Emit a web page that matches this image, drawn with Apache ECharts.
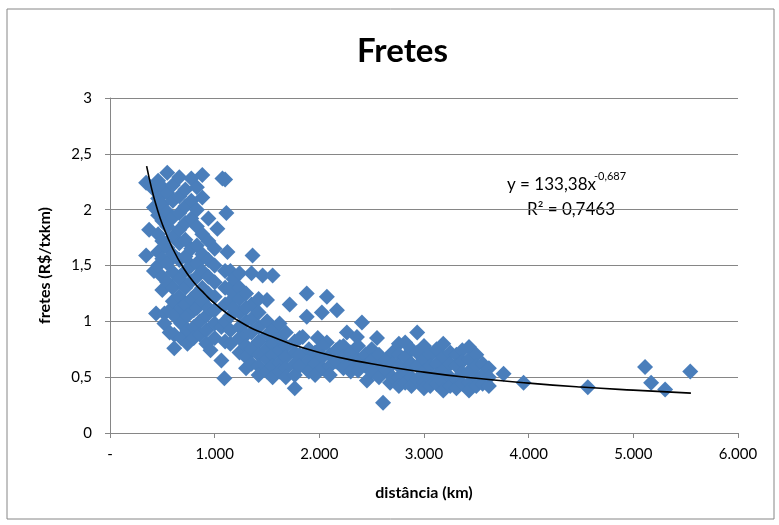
<!DOCTYPE html>
<html>
<head>
<meta charset="utf-8">
<script src="https://cdn.jsdelivr.net/npm/echarts@6/dist/echarts.min.js"></script>
<style>
  html, body { margin: 0; padding: 0; background: #fff; }
  #fretes { width: 779px; height: 525px; }
</style>
</head>
<body>
<div id="fretes"></div>
<script>
// pontos observados: [distancia (km), frete (R$/txkm)]
var pontos = [
  [345, 2.24], [345, 1.59], [374, 1.82],
  [420, 2.18], [420, 2.02], [420, 1.45], [440, 1.07],
  [460, 2.26], [460, 2.1], [460, 1.95], [460, 1.78], [460, 1.62], [460, 1.5],
  [500, 2.2], [500, 2.05], [500, 1.9], [500, 1.72], [500, 1.56], [500, 1.4], [500, 1.28], [520, 1.07], [520, 0.98],
  [547, 2.33], [547, 2.15], [547, 1.98], [547, 1.85], [547, 1.66], [547, 1.52], [547, 1.35], [570, 1.1], [570, 0.9],
  [600, 2.22], [600, 2.08], [600, 1.93], [600, 1.76], [600, 1.6], [600, 1.44], [600, 1.3], [600, 1.18],
  [614, 1.05], [614, 0.88], [614, 0.76],
  [662, 2.29], [662, 2.12], [662, 1.97], [662, 1.82], [662, 1.7], [662, 1.55], [662, 1.38], [662, 1.22],
  [680, 1.12], [680, 0.98], [680, 0.85],
  [720, 2.18], [720, 2.03], [720, 1.88], [720, 1.73], [720, 1.58], [720, 1.45], [720, 1.3], [720, 1.15],
  [740, 1.05], [740, 0.92], [740, 0.8],
  [777, 2.28], [777, 2.08], [777, 1.92], [777, 1.65], [777, 1.5], [777, 1.36], [777, 1.2],
  [800, 1.1], [800, 0.95], [800, 0.85],
  [830, 2.2], [830, 2.0], [830, 1.85], [830, 1.68], [830, 1.52], [830, 1.4], [830, 1.25], [830, 1.12],
  [860, 1.0], [860, 0.88],
  [882, 2.31], [882, 2.11], [882, 1.78], [882, 1.6], [882, 1.45], [882, 1.3], [882, 1.18],
  [920, 1.05], [920, 0.92], [920, 0.8],
  [940, 1.92], [940, 1.72], [940, 1.55], [940, 1.4], [940, 1.25], [940, 1.12], [960, 0.74],
  [1000, 1.65], [1000, 1.5], [1000, 1.35], [1000, 1.22], [1000, 1.1], [1000, 0.98], [1000, 0.85],
  [1026, 1.83], [1064, 0.65], [1064, 0.95], [1074, 2.28], [1093, 0.49],
  [1100, 2.27], [1112, 1.97], [1100, 1.45], [1100, 1.3], [1100, 1.15], [1100, 1.0], [1100, 0.82], [1122, 1.62],
  [1150, 1.45], [1150, 1.3], [1150, 1.18], [1150, 1.05], [1150, 0.92], [1150, 0.8],
  [1180, 1.38], [1180, 1.25], [1180, 1.12],
  [1237, 1.43], [1237, 1.3], [1237, 1.2], [1237, 1.08], [1237, 0.95], [1237, 0.85], [1237, 0.72],
  [1300, 1.25], [1300, 1.12], [1300, 1.0], [1300, 0.88], [1300, 0.78], [1300, 0.68], [1300, 0.58],
  [1352, 1.43], [1362, 1.59], [1352, 1.15], [1352, 1.02], [1352, 0.9], [1352, 0.75], [1352, 0.62],
  [1420, 1.2], [1420, 1.08], [1420, 0.95], [1420, 0.82], [1420, 0.7], [1420, 0.6], [1420, 0.52],
  [1458, 1.41],
  [1500, 1.19], [1500, 1.0], [1500, 0.88], [1500, 0.76], [1500, 0.66], [1500, 0.55],
  [1554, 1.41], [1554, 0.92], [1554, 0.8], [1554, 0.7], [1554, 0.6], [1554, 0.5],
  [1620, 0.98], [1620, 0.85], [1620, 0.74], [1620, 0.63], [1620, 0.55],
  [1680, 0.9], [1680, 0.78], [1680, 0.68], [1680, 0.58], [1680, 0.5],
  [1717, 1.15], [1765, 0.4], [1765, 0.82], [1765, 0.72], [1765, 0.62], [1765, 0.52],
  [1813, 0.85], [1813, 0.7], [1813, 0.6],
  [1880, 1.25], [2072, 1.22], [2024, 1.08], [2168, 1.1], [1880, 1.04], [2407, 0.99], [2263, 0.9],
  [2359, 0.86], [2551, 0.85], [1841, 0.86], [1985, 0.85], [2072, 0.81], [2196, 0.77],
  [2609, 0.27], [2455, 0.47], [2676, 0.45],
  [1900, 0.75], [1900, 0.65], [1900, 0.55],
  [1960, 0.72], [1960, 0.62], [1960, 0.52],
  [2030, 0.78], [2030, 0.68], [2030, 0.58],
  [2100, 0.7], [2100, 0.6], [2100, 0.52],
  [2160, 0.74], [2160, 0.64],
  [2230, 0.78], [2230, 0.68], [2230, 0.58],
  [2300, 0.72], [2300, 0.62], [2300, 0.55],
  [2370, 0.78], [2370, 0.66], [2370, 0.56],
  [2440, 0.7], [2440, 0.6],
  [2500, 0.75], [2500, 0.65], [2500, 0.55],
  [2570, 0.7], [2570, 0.6], [2570, 0.5],
  [2640, 0.66], [2640, 0.56],
  [2700, 0.72], [2700, 0.62], [2700, 0.5],
  [2760, 0.8], [2760, 0.7], [2760, 0.6], [2760, 0.5], [2760, 0.42],
  [2820, 0.81], [2820, 0.68], [2820, 0.55], [2820, 0.45],
  [2880, 0.75], [2880, 0.62], [2880, 0.5], [2880, 0.42],
  [2935, 0.9], [2935, 0.72], [2935, 0.6], [2935, 0.48],
  [3000, 0.78], [3000, 0.66], [3000, 0.55], [3000, 0.45], [3000, 0.4],
  [3060, 0.7], [3060, 0.6], [3060, 0.5], [3060, 0.42],
  [3120, 0.75], [3120, 0.62], [3120, 0.52], [3120, 0.44],
  [3184, 0.8], [3184, 0.68], [3184, 0.56], [3184, 0.45], [3184, 0.38],
  [3250, 0.72], [3250, 0.62], [3250, 0.5], [3250, 0.42],
  [3310, 0.7], [3310, 0.6], [3310, 0.48], [3310, 0.4],
  [3366, 0.74], [3366, 0.64], [3366, 0.54], [3366, 0.44],
  [3430, 0.77], [3430, 0.66], [3430, 0.55], [3430, 0.45], [3430, 0.38],
  [3500, 0.7], [3500, 0.6], [3500, 0.5], [3500, 0.42],
  [3560, 0.62], [3560, 0.52], [3560, 0.44],
  [3620, 0.58], [3620, 0.5], [3620, 0.42],
  [3760, 0.53], [3951, 0.45], [4565, 0.41], [5112, 0.59], [5170, 0.45], [5304, 0.39], [5544, 0.55]
]

// linha de tendencia (potencia)
var tendX = [350, 400, 450, 500, 600, 700, 800, 900, 1000, 1200, 1500, 2000, 2500, 3000, 3500, 4000, 4500, 5000, 5550]
var tendY = [2.39, 2.18, 2.01, 1.87, 1.65, 1.48, 1.35, 1.25, 1.16, 1.02, 0.88, 0.72, 0.62, 0.545, 0.49, 0.447, 0.412, 0.384, 0.357]

var yTicks = [0, 0.5, 1, 1.5, 2, 2.5, 3]
var xTicks = [0, 1000, 2000, 3000, 4000, 5000, 6000]

var fonte = 'Lato, "Noto Sans", sans-serif'
var cinza = '#868686'

var tendencia = tendX.map(function (x, i) { return [x, tendY[i]] })

var chart = echarts.init(document.getElementById('fretes'))
chart.setOption({
  backgroundColor: '#fff',
  animation: false,
  title: {
    text: 'Fretes',
    left: 352,
    top: 30,
    textStyle: { fontFamily: fonte, fontSize: 33, fontWeight: 'bold', color: '#000' }
  },
  grid: { left: 110, right: 41, top: 98, bottom: 92 },
  xAxis: {
    type: 'value',
    min: xTicks[0],
    max: xTicks[xTicks.length - 1],
    interval: 1000,
    name: 'distância (km)',
    nameLocation: 'middle',
    nameGap: 52,
    nameTextStyle: { fontFamily: fonte, fontSize: 16, fontWeight: 'bold', color: '#000' },
    axisLine: { lineStyle: { color: cinza } },
    axisTick: { show: true, length: 5, lineStyle: { color: cinza } },
    splitLine: { show: false },
    axisLabel: {
      fontFamily: fonte, fontSize: 15, color: '#000', margin: 14,
      formatter: function (v) {
        if (v === 0) return '-'
        return (v / 1000).toFixed(0) + '.000'
      }
    }
  },
  yAxis: {
    type: 'value',
    min: yTicks[0],
    max: yTicks[yTicks.length - 1],
    interval: 0.5,
    name: 'fretes (R$/txkm)',
    nameLocation: 'middle',
    nameGap: 57,
    nameTextStyle: { fontFamily: fonte, fontSize: 16, fontWeight: 'bold', color: '#000' },
    axisLine: { show: true, lineStyle: { color: cinza } },
    axisTick: { show: true, length: 5, lineStyle: { color: cinza } },
    splitLine: { show: true, lineStyle: { color: cinza, width: 1 } },
    axisLabel: {
      fontFamily: fonte, fontSize: 15, color: '#000', margin: 18,
      formatter: function (v) { return String(v).replace('.', ',') }
    }
  },
  series: [
    {
      name: 'fretes',
      type: 'scatter',
      symbol: 'diamond',
      symbolSize: 16,
      itemStyle: { color: '#4a7ebb', opacity: 1 },
      data: pontos
    },
    {
      name: 'tendência',
      type: 'line',
      smooth: true,
      symbol: 'none',
      lineStyle: { color: '#000', width: 1.6 },
      data: tendencia,
      z: 5
    }
  ],
  graphic: [
    {
      type: 'rect',
      shape: { x: 7, y: 9, width: 767, height: 510 },
      style: { fill: 'none', stroke: cinza, lineWidth: 1 },
      silent: true
    },
    {
      type: 'text',
      left: 507, top: 176,
      style: { text: 'y = 133,38x', font: '17px ' + fonte, fill: '#000' }
    },
    {
      type: 'text',
      left: 594, top: 171,
      style: { text: '-0,687', font: '11px ' + fonte, fill: '#000' }
    },
    {
      type: 'text',
      left: 527, top: 201,
      style: { text: 'R² = 0,7463', font: '17px ' + fonte, fill: '#000' }
    }
  ]
})
</script>
</body>
</html>
